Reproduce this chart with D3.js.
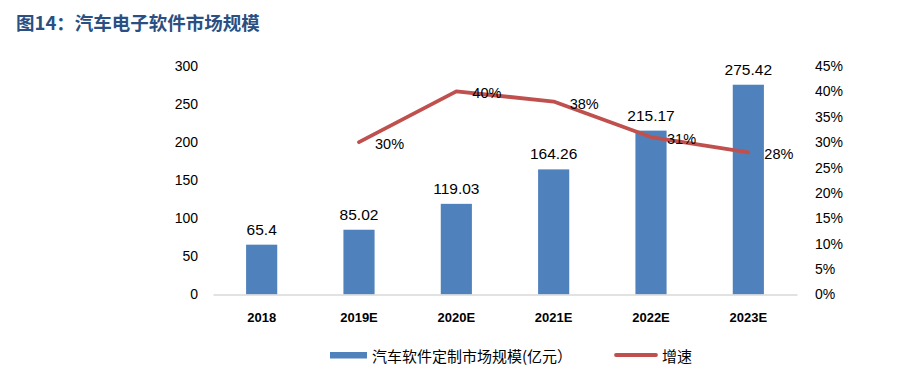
<!DOCTYPE html>
<html><head><meta charset="utf-8">
<script src="https://cdn.jsdelivr.net/npm/d3@7"></script>
<style>
body{margin:0;background:#fff;}
svg{display:block;}
text{font-family:"Liberation Sans",Arial,sans-serif;}
</style></head>
<body><svg id="c" width="899" height="371"></svg>
<script>
const categories = ["2018","2019E","2020E","2021E","2022E","2023E"];
const marketSize = [65.4, 85.02, 119.03, 164.26, 215.17, 275.42];
const growth = [null, 0.30, 0.40, 0.38, 0.31, 0.28];
const growthLabels = [null, "30%", "40%", "38%", "31%", "28%"];
const leftTicks = [0,50,100,150,200,250,300];
const rightTicks = [0,0.05,0.10,0.15,0.20,0.25,0.30,0.35,0.40,0.45];
const title = "图14：汽车电子软件市场规模";
const legendBar = "汽车软件定制市场规模(亿元）";
const legendLine = "增速";

const svg = d3.select("#c");
const L = 213, R = 797, T = 66, B = 294.5;
const x = d3.scaleBand().domain(categories).range([L, R]).paddingInner(0.68).paddingOuter(0.34);
const y = d3.scaleLinear().domain([0, 300]).range([B, T]);
const y2 = d3.scaleLinear().domain([0, 0.45]).range([B, T]);

svg.append("text").attr("x", 16).attr("y", 30).attr("fill", "#2A4F82")
  .attr("font-size", 18.5).attr("font-weight", "bold")
  .style("font-family", "'Noto Sans CJK SC',sans-serif").text(title);

// left axis
const ga = svg.append("g").attr("transform", `translate(${L},0)`)
  .call(d3.axisLeft(y).tickValues(leftTicks).tickSize(0).tickPadding(15));
ga.select(".domain").remove();
ga.selectAll("text").attr("font-size", 14).attr("fill", "#000").style("font-family","'Liberation Sans',Arial,sans-serif");

// right axis
const gr = svg.append("g").attr("transform", `translate(${R},0)`)
  .call(d3.axisRight(y2).tickValues(rightTicks).tickSize(0).tickPadding(18).tickFormat(d3.format(".0%")));
gr.select(".domain").remove();
gr.selectAll("text").attr("font-size", 14).attr("fill", "#000").style("font-family","'Liberation Sans',Arial,sans-serif");

// bars
svg.append("g").selectAll("rect").data(marketSize).join("rect")
  .attr("x", (d,i) => x(categories[i])).attr("width", x.bandwidth())
  .attr("y", d => y(d)).attr("height", d => B - y(d)).attr("fill", "#4F81BD");

// bottom axis
const gx = svg.append("g").attr("transform", `translate(0,${B})`)
  .call(d3.axisBottom(x).tickSize(0).tickPadding(18));
gx.select(".domain").attr("stroke", "#D9D9D9").attr("stroke-width", 1.3);
gx.selectAll("text").attr("font-size", 13).attr("font-weight", "bold").attr("fill", "#000")
  .style("font-family","'Liberation Sans Narrow','Liberation Sans',Arial,sans-serif");

// bar labels
svg.append("g").selectAll("text").data(marketSize).join("text")
  .attr("x", (d,i) => x(categories[i]) + x.bandwidth()/2).attr("y", d => y(d) - 10)
  .attr("text-anchor", "middle").attr("font-size", 15.5).attr("fill", "#000")
  .text(d => String(d));

// line
const pts = growth.map((g,i) => g == null ? null : [x(categories[i]) + x.bandwidth()/2, y2(g)]).filter(p => p);
svg.append("path").attr("d", d3.line()(pts)).attr("fill", "none")
  .attr("stroke", "#C0504D").attr("stroke-width", 3.8).attr("stroke-linejoin", "round").attr("stroke-linecap", "round");

growth.forEach((g,i) => {
  if (g == null) return;
  svg.append("text").attr("x", x(categories[i]) + x.bandwidth()/2 + 16).attr("y", y2(g) + 7)
    .attr("font-size", 14.5).attr("fill", "#000").text(growthLabels[i]);
});

// legend
svg.append("rect").attr("x", 330).attr("y", 352).attr("width", 37).attr("height", 6.5).attr("fill", "#4F81BD");
svg.append("text").attr("x", 372).attr("y", 362).attr("font-size", 15).attr("fill", "#000")
  .style("font-family","'Noto Sans CJK SC',sans-serif").text(legendBar);
svg.append("line").attr("x1", 616).attr("x2", 656).attr("y1", 355).attr("y2", 355)
  .attr("stroke", "#C0504D").attr("stroke-width", 3.8).attr("stroke-linecap","round");
svg.append("text").attr("x", 662).attr("y", 362).attr("font-size", 15).attr("fill", "#000")
  .style("font-family","'Noto Sans CJK SC',sans-serif").text(legendLine);
</script></body></html>
